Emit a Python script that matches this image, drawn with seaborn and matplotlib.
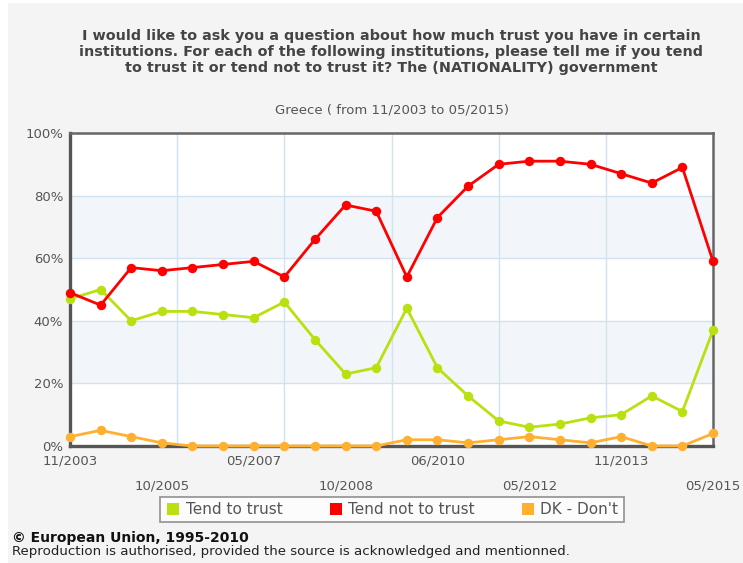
import numpy as np
import pandas as pd
import matplotlib
matplotlib.use("Agg")
import matplotlib.pyplot as plt
from matplotlib.patches import Rectangle
from matplotlib.lines import Line2D
import seaborn as sns

# Survey waves (index along the x axis) and their labelled dates
wave = list(range(22))
tick_pos_upper = [0, 6, 12, 18]
tick_lab_upper = ["11/2003", "05/2007", "06/2010", "11/2013"]
tick_pos_lower = [3, 9, 15, 21]
tick_lab_lower = ["10/2005", "10/2008", "05/2012", "05/2015"]

series_names = ["Tend to trust", "Tend not to trust", "DK - Don't"]
tend_to_trust = [47, 50, 40, 43, 43, 42, 41, 46, 34, 23, 25,
                 44, 25, 16, 8, 6, 7, 9, 10, 16, 11, 37]
tend_not_to_trust = [49, 45, 57, 56, 57, 58, 59, 54, 66, 77, 75,
                     54, 73, 83, 90, 91, 91, 90, 87, 84, 89, 59]
dont_know = [3, 5, 3, 1, 0, 0, 0, 0, 0, 0, 0,
             2, 2, 1, 2, 3, 2, 1, 3, 0, 0, 4]

colors = ["#b9e00f", "#ff0000", "#ffb030"]

df = pd.DataFrame({
    "wave": wave * 3,
    "value": tend_to_trust + tend_not_to_trust + dont_know,
    "series": sum([[n] * len(wave) for n in series_names], []),
})

sns.set_theme(style="white")
plt.rcParams["font.family"] = ["DejaVu Sans"]

W, H = 743, 563
fig = plt.figure(figsize=(W / 100, H / 100), dpi=100, facecolor="white")
fig.patches.append(Rectangle((8 / W, 0), 1, 1 - 3 / H, transform=fig.transFigure,
                             facecolor="#f4f4f5", edgecolor="none", zorder=-10))

ax = fig.add_axes([70 / W, 1 - 446 / H, (713 - 70) / W, (446 - 133) / H])
ax.set_facecolor("white")

# alternating horizontal bands
for lo, hi in [(20, 40), (60, 80)]:
    ax.axhspan(lo, hi, color="#f2f6fa", zorder=0, lw=0)
for yv in [20, 40, 60, 80]:
    ax.axhline(yv, color="#d3e2ef", lw=1, zorder=0.5)
for xv in [3.5, 7, 10.5, 14, 17.5]:
    ax.axvline(xv, color="#d3e2ef", lw=1, zorder=0.5)

for name, col in zip(series_names, colors):
    sns.lineplot(data=df[df["series"] == name], x="wave", y="value", ax=ax,
                 color=col, lw=2.0, marker="o", markersize=6.8,
                 markeredgewidth=0, clip_on=False, legend=False, zorder=3)

ax.set_xlim(0, 21)
ax.set_ylim(0, 100)
ax.set_xlabel("")
ax.set_ylabel("")

ax.set_yticks([0, 20, 40, 60, 80, 100])
ax.set_yticklabels(["0%", "20%", "40%", "60%", "80%", "100%"])
ax.set_xticks(tick_pos_upper)
ax.set_xticklabels(tick_lab_upper)
ax.set_xticks(tick_pos_lower, minor=True)
ax.set_xticklabels(tick_lab_lower, minor=True)
ax.tick_params(axis="both", which="both", length=0, colors="#555555", labelsize=9.5)
ax.tick_params(axis="y", pad=5)
ax.tick_params(axis="x", which="major", pad=6)
ax.tick_params(axis="x", which="minor", pad=24)

for side in ["left", "bottom"]:
    ax.spines[side].set_color("#555555")
    ax.spines[side].set_linewidth(2.4)
for side in ["top", "right"]:
    ax.spines[side].set_color("#666666")
    ax.spines[side].set_linewidth(1.8)

fig.text(391 / W, 1 - 52 / H,
         "I would like to ask you a question about how much trust you have in certain\n"
         "institutions. For each of the following institutions, please tell me if you tend\n"
         "to trust it or tend not to trust it? The (NATIONALITY) government",
         ha="center", va="center", fontsize=10.4, fontweight="bold",
         color="#444444", linespacing=1.15)
fig.text(392 / W, 1 - 110 / H, "Greece ( from 11/2003 to 05/2015)",
         ha="center", va="center", fontsize=9.5, color="#555555")

handles = [Line2D([], [], marker="s", linestyle="none", markersize=8,
                  markerfacecolor=c, markeredgewidth=0) for c in colors]
leg = fig.legend(handles, series_names, loc="center", ncol=3,
                 bbox_to_anchor=(392 / W, 1 - 509.5 / H), frameon=True,
                 fancybox=False, edgecolor="#777777", fontsize=11,
                 handletextpad=0.3, columnspacing=3.0, handlelength=1.0,
                 borderpad=0.35, borderaxespad=0, labelcolor="#555555")
leg.get_frame().set_linewidth(1.2)
leg.get_frame().set_facecolor("white")

fig.text(12 / W, 1 - 538 / H, "\u00a9 European Union, 1995-2010",
         ha="left", va="center", fontsize=10, fontweight="bold", color="#111111")
fig.text(12 / W, 1 - 551 / H,
         "Reproduction is authorised, provided the source is acknowledged and mentionned.",
         ha="left", va="center", fontsize=9.6, color="#222222")

fig.savefig("out.png", dpi=100, facecolor=fig.get_facecolor())
